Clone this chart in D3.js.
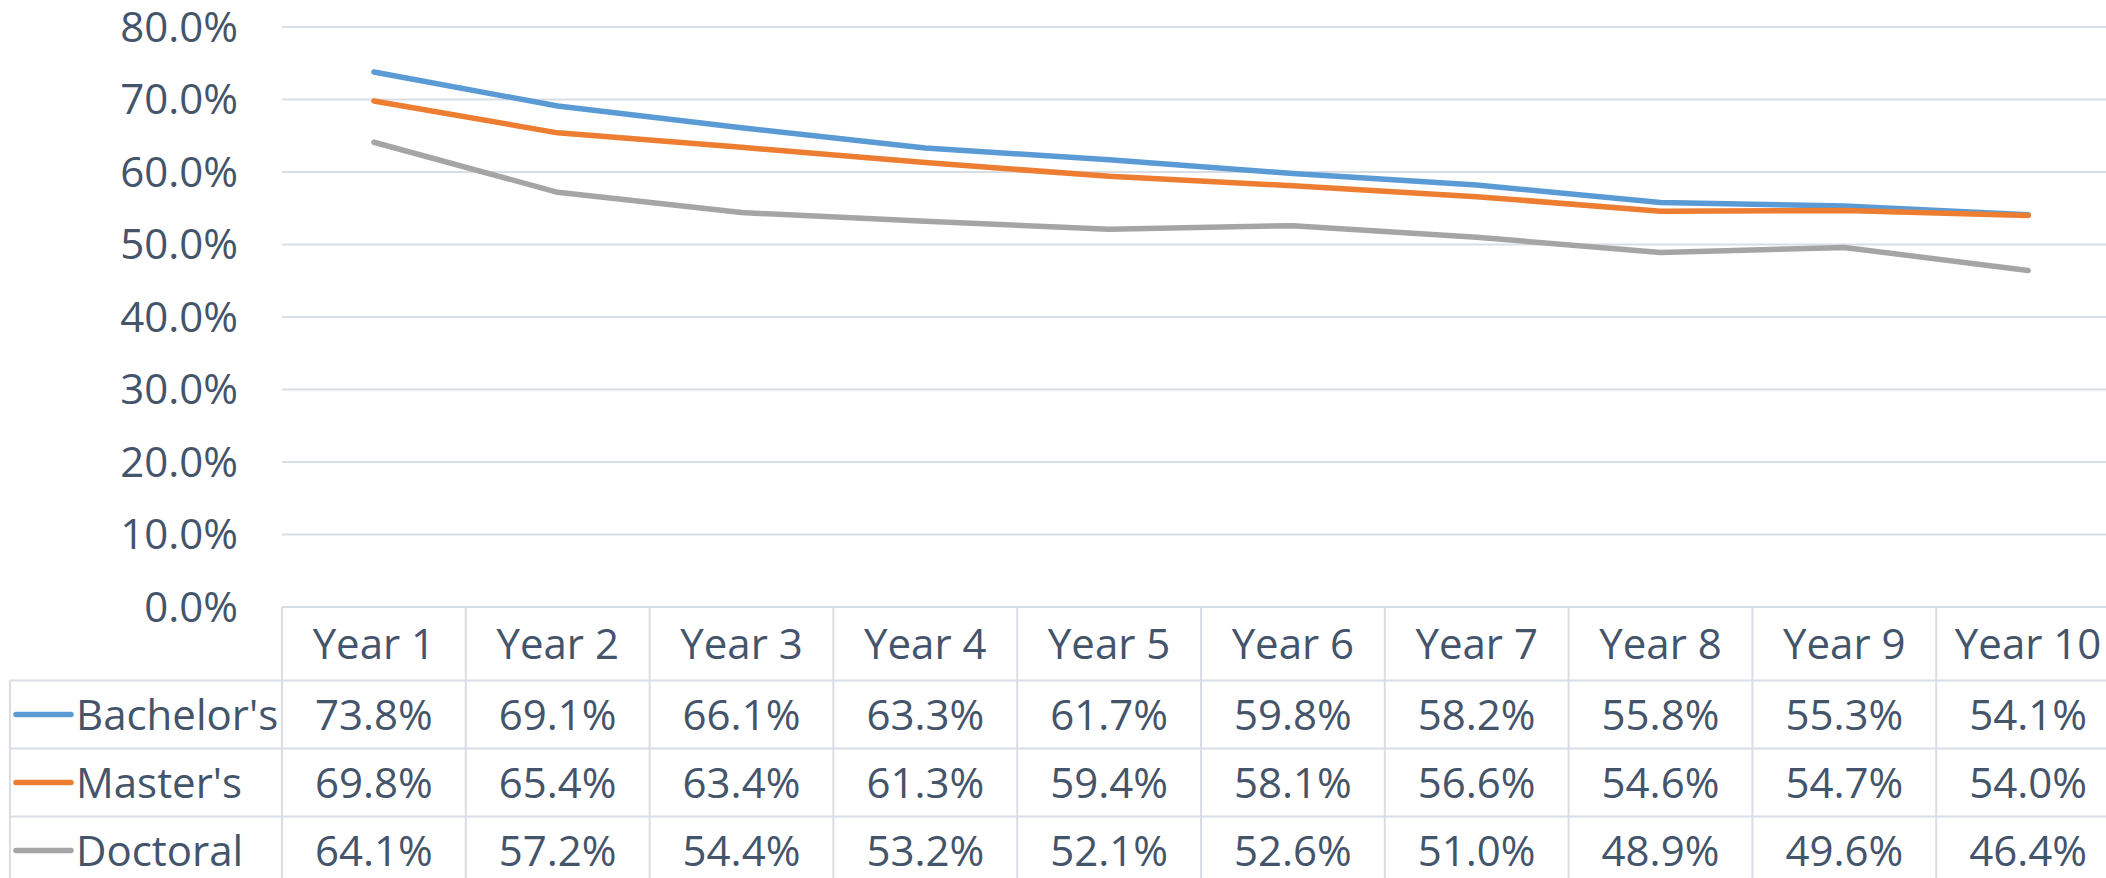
<!DOCTYPE html>
<html>
<head>
<meta charset="utf-8">
<script src="https://cdn.jsdelivr.net/npm/d3@7"></script>
<style>
  html, body { margin: 0; padding: 0; background: #fff; overflow: hidden; }
  svg { display: block; font-family: 'Open Sans', sans-serif; }
</style>
</head>
<body>
<div id="chart"></div>
<script>
const years = ['Year 1', 'Year 2', 'Year 3', 'Year 4', 'Year 5', 'Year 6', 'Year 7', 'Year 8', 'Year 9', 'Year 10']
const seriesNames = ["Bachelor's", "Master's", 'Doctoral']
const bachelors = [73.8, 69.1, 66.1, 63.3, 61.7, 59.8, 58.2, 55.8, 55.3, 54.1]
const masters = [69.8, 65.4, 63.4, 61.3, 59.4, 58.1, 56.6, 54.6, 54.7, 54.0]
const doctoral = [64.1, 57.2, 54.4, 53.2, 52.1, 52.6, 51.0, 48.9, 49.6, 46.4]
const yTicks = [0, 10, 20, 30, 40, 50, 60, 70, 80]

const width = 2106
const height = 878
const plotLeft = 282
const colWidth = 183.8
const plotTop = 27
const plotBottom = 607
const headerHeight = 73.5
const rowHeight = 68
const tableLeft = 10

const textColor = '#44546A'
const gridColor = '#D9DEE6'
const colors = ['#5B9BD5', '#ED7D31', '#A5A5A5']
const fontSize = 42

const series = seriesNames.map((name, i) => ({
  name,
  color: colors[i],
  values: [bachelors, masters, doctoral][i]
}))

const svg = d3.select('#chart')
  .append('svg')
  .attr('width', width)
  .attr('height', height)

const x = d3.scaleBand()
  .domain(years)
  .range([plotLeft, plotLeft + colWidth * years.length])
  .padding(0)

const y = d3.scaleLinear()
  .domain([0, 80])
  .range([plotBottom, plotTop])

// gridlines
svg.append('g')
  .selectAll('line')
  .data(yTicks.filter(d => d > 0))
  .join('line')
  .attr('x1', plotLeft)
  .attr('x2', width)
  .attr('y1', d => y(d))
  .attr('y2', d => y(d))
  .attr('stroke', gridColor)
  .attr('stroke-width', 2)

// y axis labels
svg.append('g')
  .selectAll('text')
  .data(yTicks)
  .join('text')
  .attr('x', 238)
  .attr('y', d => y(d))
  .attr('dy', '0.357em')
  .attr('text-anchor', 'end')
  .attr('font-size', fontSize)
  .attr('fill', textColor)
  .text(d => d3.format('.1f')(d) + '%')

// lines
const line = d3.line()
  .x((d, i) => x(years[i]) + x.bandwidth() / 2)
  .y(d => y(d))

svg.append('g')
  .selectAll('path')
  .data(series)
  .join('path')
  .attr('d', d => line(d.values))
  .attr('fill', 'none')
  .attr('stroke', d => d.color)
  .attr('stroke-width', 5.5)
  .attr('stroke-linecap', 'round')
  .attr('stroke-linejoin', 'round')

// data table
const table = svg.append('g')
const tableRight = x.range()[1]
const rowTop = i => plotBottom + headerHeight + i * rowHeight
const tableBottom = rowTop(series.length)

// horizontal borders
table.append('line')
  .attr('x1', plotLeft).attr('x2', tableRight)
  .attr('y1', plotBottom).attr('y2', plotBottom)
  .attr('stroke', gridColor).attr('stroke-width', 2)

table.selectAll('line.row')
  .data(d3.range(series.length + 1))
  .join('line')
  .attr('class', 'row')
  .attr('x1', tableLeft).attr('x2', tableRight)
  .attr('y1', d => rowTop(d)).attr('y2', d => rowTop(d))
  .attr('stroke', gridColor).attr('stroke-width', 2)

// vertical borders
table.selectAll('line.col')
  .data(years.concat(['end']))
  .join('line')
  .attr('class', 'col')
  .attr('x1', (d, i) => plotLeft + i * x.step())
  .attr('x2', (d, i) => plotLeft + i * x.step())
  .attr('y1', plotBottom)
  .attr('y2', tableBottom)
  .attr('stroke', gridColor).attr('stroke-width', 2)

table.append('line')
  .attr('x1', tableLeft).attr('x2', tableLeft)
  .attr('y1', rowTop(0)).attr('y2', tableBottom)
  .attr('stroke', gridColor).attr('stroke-width', 2)

// header
table.selectAll('text.head')
  .data(years)
  .join('text')
  .attr('class', 'head')
  .attr('x', d => x(d) + x.bandwidth() / 2)
  .attr('y', plotBottom + headerHeight / 2)
  .attr('dy', '0.357em')
  .attr('text-anchor', 'middle')
  .attr('font-size', fontSize)
  .attr('fill', textColor)
  .text(d => d)

// rows
const rows = table.selectAll('g.series')
  .data(series)
  .join('g')
  .attr('class', 'series')
  .attr('transform', (d, i) => `translate(0,${rowTop(i) + rowHeight / 2})`)

rows.append('line')
  .attr('x1', 16).attr('x2', 71)
  .attr('y1', 0).attr('y2', 0)
  .attr('stroke', d => d.color)
  .attr('stroke-width', 5.5)
  .attr('stroke-linecap', 'round')

rows.append('text')
  .attr('x', 76)
  .attr('dy', '0.357em')
  .attr('font-size', fontSize)
  .attr('fill', textColor)
  .text(d => d.name)

rows.selectAll('text.val')
  .data(d => d.values)
  .join('text')
  .attr('class', 'val')
  .attr('x', (d, i) => x(years[i]) + x.bandwidth() / 2)
  .attr('dy', '0.357em')
  .attr('text-anchor', 'middle')
  .attr('font-size', fontSize)
  .attr('fill', textColor)
  .text(d => d3.format('.1f')(d) + '%')
</script>
</body>
</html>
